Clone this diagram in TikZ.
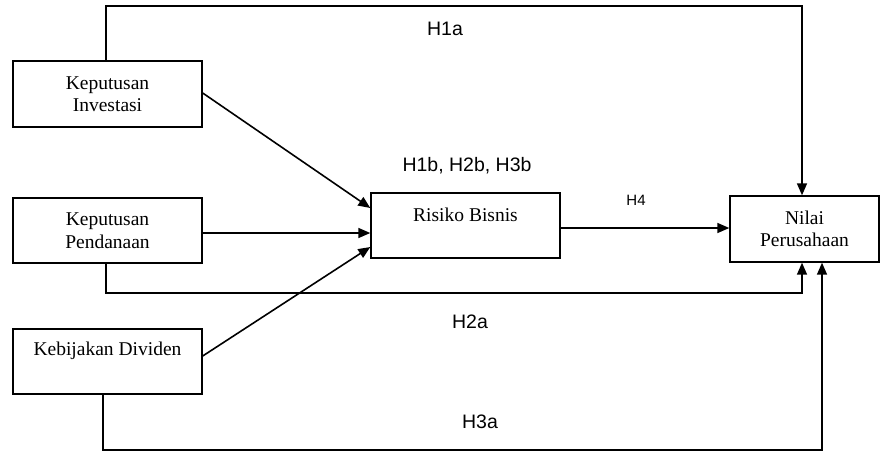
\documentclass[tikz,border=0pt]{standalone}
\usepackage{fontspec}
\setmainfont{Liberation Serif}
\newfontfamily\labfont{Liberation Sans}
\usetikzlibrary{arrows.meta}
\begin{document}
\begin{tikzpicture}[x=1pt,y=-1pt,
  box/.style={draw,line width=1.4pt,rectangle,inner sep=0pt,align=center,
    font=\fontsize{19.5}{22.5}\selectfont},
  txt/.style={inner sep=0pt,anchor=base,font=\fontsize{19.5}{22.5}\selectfont},
  lab/.style={inner sep=0pt,font=\labfont\fontsize{19.5}{22}\selectfont},
  arr/.style={line width=1.6pt,-{Triangle[length=12pt,width=10pt]}},
  ln/.style={line width=1.6pt}]
\useasboundingbox (0,0) rectangle (883,456);
\node[box,minimum width=189pt,minimum height=66pt] (inv) at (107.5,94) {Keputusan\\Investasi};
\node[box,minimum width=189pt,minimum height=65pt] (pen) at (107.5,230.5) {Keputusan\\Pendanaan};
\node[box,minimum width=189pt,minimum height=65pt] (keb) at (107.5,361.5) {};
\node[txt] (kebt) at (107.5,355) {Kebijakan Dividen};
\node[box,minimum width=189pt,minimum height=65pt] (ris) at (465.5,225.5) {};
\node[txt] (rist) at (465.5,221) {Risiko Bisnis};
\node[box,minimum width=149pt,minimum height=66pt] (nil) at (804.5,229) {Nilai\\Perusahaan};

\coordinate (t1) at (802,6);
\coordinate (b2) at (802,293);
\coordinate (b3) at (822,450);

\draw[arr] ([xshift=-1.5pt]inv.north) |- (t1) -- (t1 |- nil.north);
\draw[arr] ([xshift=-1.5pt]pen.south) |- (b2) -- (b2 |- nil.south);
\draw[arr] ([xshift=-4.5pt]keb.south) |- (b3) -- (b3 |- nil.south);

\draw[arr] ([yshift=1pt]inv.east) -- ([yshift=17.5pt]ris.west);
\draw[arr] ([yshift=-2.5pt]pen.east) -- ([yshift=-2.5pt]pen.east -| ris.west);
\draw[arr] ([yshift=5.5pt]keb.east) -- ([yshift=-21.5pt]ris.west);
\draw[arr] ([yshift=-2.5pt]ris.east) -- ([yshift=-2.5pt]ris.east -| nil.west);

\node[lab] (h1a) at (445,29) {H1a};
\node[lab] (h1b) at (467,166) {H1b, H2b, H3b};
\node[lab,font=\labfont\fontsize{15}{17}\selectfont] (h4) at (636,200) {H4};
\node[lab] (h2a) at (470,322) {H2a};
\node[lab] (h3a) at (480,422) {H3a};
\end{tikzpicture}
\end{document}
